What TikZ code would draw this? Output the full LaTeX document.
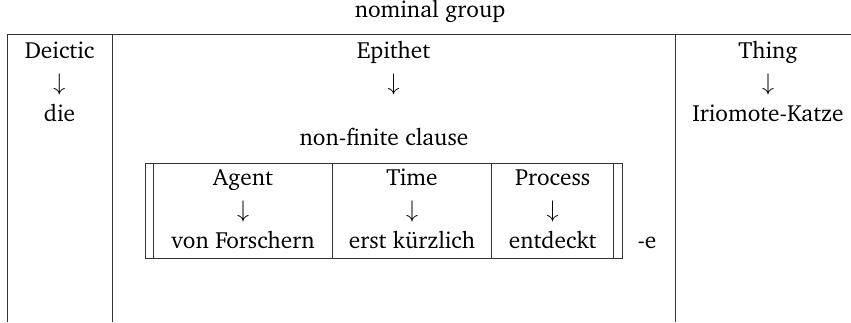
\documentclass[tikz,border=0pt]{standalone}
\usepackage[T1]{fontenc}
\usepackage{charter}
\begin{document}
\begin{tikzpicture}[x=0.5pt,y=-0.5pt,
  lab/.style={anchor=base,inner sep=0pt,font=\fontsize{11.7}{14}\selectfont},
  rule/.style={line width=0.5pt,draw=black!80}]
\useasboundingbox (0,0) rectangle (851,322);
% title
\node[lab] (title) at (430,17) {nominal group};
% outer table lines
\draw[rule] (7,34.5) -- (851,34.5);
\draw[rule] (7,34.5) -- (7,322);
\draw[rule] (112,34.5) -- (112,322);
\draw[rule] (675,34.5) -- (675,322);
% outer columns
\node[lab] (deictic) at (59.5,58) {Deictic};
\node[lab] (darr) at (59.5,90) {$\downarrow$};
\node[lab] (die) at (59.5,121) {die};
\node[lab] (epithet) at (393.5,58) {Epithet};
\node[lab] (earr) at (393.5,90) {$\downarrow$};
\node[lab] (thing) at (768,58) {Thing};
\node[lab] (tarr) at (768,90) {$\downarrow$};
\node[lab] (katze) at (768,121) {Iriomote-Katze};
% inner clause
\node[lab] (nfc) at (384,145) {non-finite clause};
\draw[rule] (145,163) rectangle (622.7,258);
\draw[rule] (153.7,163) -- (153.7,258);
\draw[rule] (613.7,163) -- (613.7,258);
\draw[rule] (332,163) -- (332,258);
\draw[rule] (491.7,163) -- (491.7,258);
\node[lab] (agent) at (243,185) {Agent};
\node[lab] (aarr) at (243,217) {$\downarrow$};
\node[lab] (von) at (243,248) {von Forschern};
\node[lab] (time) at (412,185) {Time};
\node[lab] (tiarr) at (412,217) {$\downarrow$};
\node[lab] (erst) at (412,248) {erst k\"urzlich};
\node[lab] (process) at (552.7,185) {Process};
\node[lab] (parr) at (552.7,217) {$\downarrow$};
\node[lab] (entd) at (552.7,248) {entdeckt};
\node[lab] (suffix) at (647,248) {-e};
\end{tikzpicture}
\end{document}
